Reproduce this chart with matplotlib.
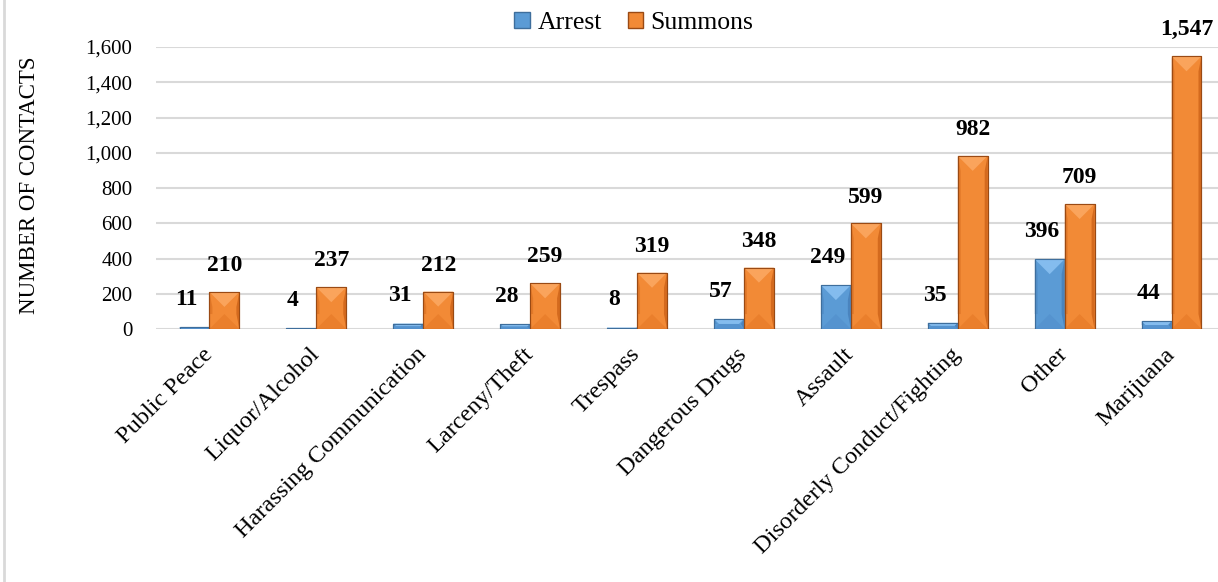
import matplotlib.pyplot as plt
from matplotlib.patches import Patch
from matplotlib.lines import Line2D
import numpy as np

# =========================
# DATOS
# =========================
categorias = [
    "Public Peace",
    "Liquor/Alcohol",
    "Harassing Communication",
    "Larceny/Theft",
    "Trespass",
    "Dangerous Drugs",
    "Assault",
    "Disorderly Conduct/Fighting",
    "Other",
    "Marijuana",
]
arrest = [11, 4, 31, 28, 8, 57, 249, 35, 396, 44]
summons = [210, 237, 212, 259, 319, 348, 599, 982, 709, 1547]
y_ticks = [0, 200, 400, 600, 800, 1000, 1200, 1400, 1600]

plt.rcParams["font.family"] = "Liberation Serif"

# colores: cara, arriba (claro), abajo, lateral, borde
azul = {"cara": "#5B9BD5", "arriba": "#84BCEE", "abajo": "#5593CF",
        "lado": "#4A84BE", "borde": "#3E6E9C"}
naranja = {"cara": "#F28A36", "arriba": "#FAA45C", "abajo": "#EA7F2C",
           "lado": "#D46A1E", "borde": "#9A4A14"}

# =========================
# FIGURA
# =========================
W, H = 1218, 582
fig = plt.figure(figsize=(W / 100, H / 100), dpi=100)
ax_left = 156 / W
ax_bottom = (H - 329) / H
ax_height = (329 - 47) / H
ax = fig.add_axes([ax_left, ax_bottom, 1 - ax_left, ax_height])

x = np.arange(len(categorias))
ancho = 0.28
ax.set_xlim(-0.5, -0.5 + (W - 156) / 106.9)
ax.set_ylim(0, 1600)

barras_a = ax.bar(x - ancho / 2, arrest, ancho, color=azul["cara"],
                  edgecolor=azul["borde"], linewidth=0.8, zorder=3)
barras_s = ax.bar(x + ancho / 2, summons, ancho, color=naranja["cara"],
                  edgecolor=naranja["borde"], linewidth=0.8, zorder=3)

# efecto bisel tipo Excel (calculado desde cada barra)
px_x = ax.transData.transform((1, 0))[0] - ax.transData.transform((0, 0))[0]
px_y = ax.transData.transform((0, 1))[1] - ax.transData.transform((0, 0))[1]
for barras, col in [(barras_a, azul), (barras_s, naranja)]:
    for b in barras:
        x0, y0 = b.get_x(), b.get_y()
        w, h = b.get_width(), b.get_height()
        d = min(w * px_x / 2, h * px_y / 2)
        dx, dy = d / px_x, d / px_y
        x1, y1 = x0 + w, y0 + h
        ax.fill([x0, x1, x1 - dx, x0 + dx], [y1, y1, y1 - dy, y1 - dy],
                color=col["arriba"], lw=0, zorder=4)
        ax.fill([x0, x1, x1 - dx, x0 + dx], [y0, y0, y0 + dy, y0 + dy],
                color=col["abajo"], lw=0, zorder=4)
        # bordes laterales mas oscuros
        s = min(3 / px_x, w / 6)
        ax.fill([x1 - s, x1, x1, x1 - s], [y0 + dy, y0, y1, y1 - dy],
                color=col["lado"], lw=0, zorder=4)
        ax.fill([x0, x0 + s, x0 + s, x0], [y0 + dy, y0 + dy, y1 - dy, y1],
                color=col["lado"], lw=0, alpha=0.5, zorder=4)
        ax.add_patch(plt.Rectangle((x0, y0), w, h, fill=False,
                                   edgecolor=col["borde"], lw=0.8, zorder=5))

# etiquetas de datos
for xi, v in zip(x, arrest):
    ax.annotate(f"{v:,}", (xi - ancho / 2, v), xytext=(-6, 20),
                textcoords="offset points", ha="center", va="center",
                fontsize=17, fontweight="bold", clip_on=False, zorder=6)
for xi, v in zip(x, summons):
    ax.annotate(f"{v:,}", (xi + ancho / 2, v), xytext=(0, 19),
                textcoords="offset points", ha="center", va="center",
                fontsize=17, fontweight="bold", clip_on=False, zorder=6)

# ejes
ax.set_yticks(y_ticks)
ax.set_yticklabels([f"{t:,}" for t in y_ticks], fontsize=15)
ax.set_xticks(x)
ax.set_xticklabels(categorias, rotation=45, ha="right", va="center",
                   rotation_mode="anchor", fontsize=17.5)
ax.tick_params(axis="y", length=0, pad=17)
ax.tick_params(axis="x", length=0, pad=16)
ax.grid(True, axis="y", color="#D9D9D9", linewidth=1.5, zorder=0)
ax.set_axisbelow(True)
for spine in ax.spines.values():
    spine.set_visible(False)

fig.text(30 / W, 1 - 185 / H, "NUMBER OF CONTACTS", rotation=90,
         ha="center", va="center", fontsize=16.5)

# leyenda
handles = [Patch(facecolor=azul["cara"], edgecolor=azul["borde"], label="Arrest"),
           Patch(facecolor=naranja["cara"], edgecolor=naranja["borde"], label="Summons")]
fig.legend(handles=handles, loc="center", bbox_to_anchor=(634 / W, 1 - 23 / H),
           ncol=2, frameon=False, fontsize=18.5, handlelength=0.6, handleheight=0.6,
           handletextpad=0.3, columnspacing=1.0, borderpad=0)

# borde izquierdo del grafico
fig.add_artist(Line2D([3.5 / W, 3.5 / W], [0, 1], color="#D9D9D9", lw=2))

fig.savefig("out.png", dpi=100)
